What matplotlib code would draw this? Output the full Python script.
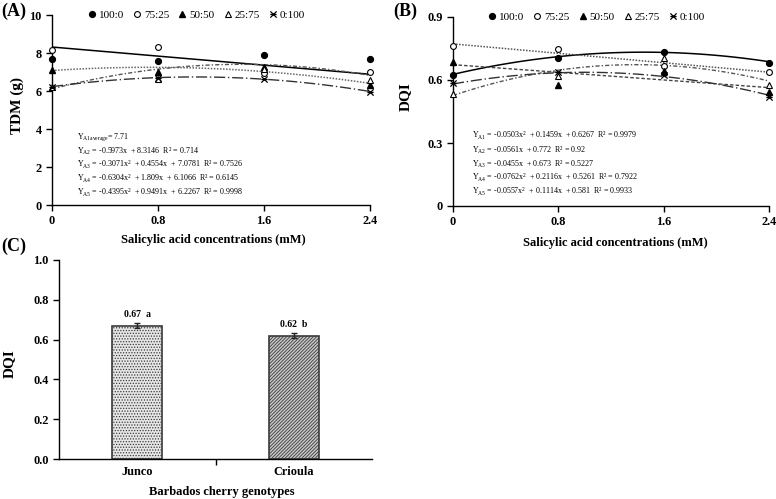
import numpy as np
import matplotlib
matplotlib.use("Agg")
import matplotlib.pyplot as plt
from matplotlib.path import Path

plt.rcParams['font.family'] = ['Liberation Serif', 'DejaVu Serif']
plt.rcParams['mathtext.fontset'] = 'custom'
plt.rcParams['mathtext.rm'] = 'Liberation Serif'
plt.rcParams['mathtext.it'] = 'Liberation Serif:italic'
plt.rcParams['mathtext.bf'] = 'Liberation Serif:bold'
plt.rcParams['hatch.color'] = '#555555'
plt.rcParams['hatch.linewidth'] = 0.6

# ---------------- data ----------------
sa = [0, 0.8, 1.6, 2.4]
series = ["100:0", "75:25", "50:50", "25:75", "0:100"]

tdm_100_0 = [7.68, 7.56, 7.89, 7.67]
tdm_75_25 = [8.16, 8.30, 6.93, 7.02]
tdm_50_50 = [7.10, 7.02, 7.28, 6.32]
tdm_25_75 = [6.19, 6.63, 7.15, 6.60]
tdm_0_100 = [6.19, 6.66, 6.63, 5.96]

dqi_100_0 = [0.625, 0.704, 0.731, 0.683]
dqi_75_25 = [0.760, 0.749, 0.668, 0.638]
dqi_50_50 = [0.688, 0.577, 0.644, 0.545]
dqi_25_75 = [0.534, 0.620, 0.704, 0.577]
dqi_0_100 = [0.585, 0.640, 0.625, 0.521]

# regression coefficients (highest power first), as printed on the chart
tdm_fits = {"75:25": [-0.5973, 8.3146], "50:50": [-0.3071, 0.4554, 7.0781],
            "25:75": [-0.6304, 1.809, 6.1066], "0:100": [-0.4395, 0.9491, 6.2267]}
dqi_fits = {"100:0": [-0.0503, 0.1459, 0.6267], "75:25": [-0.0561, 0.772],
            "50:50": [-0.0455, 0.673], "25:75": [-0.0762, 0.2116, 0.5261],
            "0:100": [-0.0557, 0.1114, 0.581]}

tdm_eqs = [r"Y$_{\rm A1average}$= 7.71",
           r"Y$_{\rm A2}$ = -0.5973x  + 8.3146  R² = 0.714",
           r"Y$_{\rm A3}$ = -0.3071x$^{2}$  + 0.4554x  + 7.0781  R² = 0.7526",
           r"Y$_{\rm A4}$ = -0.6304x$^{2}$  + 1.809x  + 6.1066  R² = 0.6145",
           r"Y$_{\rm A5}$ = -0.4395x$^{2}$  + 0.9491x  + 6.2267  R² = 0.9998"]
dqi_eqs = [r"Y$_{\rm A1}$ = -0.0503x$^{2}$  + 0.1459x  + 0.6267  R² = 0.9979",
           r"Y$_{\rm A2}$ = -0.0561x  + 0.772  R² = 0.92",
           r"Y$_{\rm A3}$ = -0.0455x  + 0.673  R² = 0.5227",
           r"Y$_{\rm A4}$ = -0.0762x$^{2}$  + 0.2116x  + 0.5261  R² = 0.7922",
           r"Y$_{\rm A5}$ = -0.0557x$^{2}$  + 0.1114x  + 0.581  R² = 0.9933"]

genotypes = ["Junco", "Crioula"]
dqi_geno = [0.67, 0.62]
dqi_geno_err = [0.012, 0.011]
geno_labels = ["0.67  a", "0.62  b"]

# ---------------- styles ----------------
star = Path([(-1, -1), (1, 1), (-1, 1), (1, -1), (-1, 0), (1, 0)],
            [Path.MOVETO, Path.LINETO, Path.MOVETO, Path.LINETO, Path.MOVETO, Path.LINETO])
mk = {"100:0": dict(marker='o', mfc='black', mec='black', ms=4.2),
      "75:25": dict(marker='o', mfc='white', mec='black', ms=4.2, mew=0.8),
      "50:50": dict(marker='^', mfc='black', mec='black', ms=4.2),
      "25:75": dict(marker='^', mfc='white', mec='black', ms=4.2, mew=0.8),
      "0:100": dict(marker=star, mfc='none', mec='black', ms=4.5, mew=0.9)}
ls = {"100:0": dict(ls='-', color='black', lw=1.1),
      "75:25": dict(ls=(0, (1, 1)), color='#555555', lw=1.1),
      "50:50": dict(ls=(0, (2.5, 1.5)), color='#444444', lw=1.0),
      "25:75": dict(ls=(0, (3, 1.5, 1, 1.5)), color='#555555', lw=1.0),
      "0:100": dict(ls=(0, (8, 2, 1, 2)), color='#333333', lw=1.0)}
ls_tdm = {"75:25": dict(ls='-', color='black', lw=1.1),
          "50:50": dict(ls=(0, (1, 1)), color='#666666', lw=1.1),
          "25:75": dict(ls=(0, (3, 1.5, 1, 1.5)), color='#555555', lw=1.0),
          "0:100": dict(ls=(0, (8, 2, 1, 2)), color='#333333', lw=1.0)}

W, H = 776, 499
fig = plt.figure(figsize=(W / 100, H / 100), dpi=100)


def ax_px(l, r, b, t):
    return fig.add_axes([l / W, 1 - b / H, (r - l) / W, (b - t) / H])


def ftext(x, y, s, **kw):
    return fig.text(x / W, 1 - y / H, s, **kw)


def style(ax):
    for s in ['top', 'right']:
        ax.spines[s].set_visible(False)
    for s in ['left', 'bottom']:
        ax.spines[s].set_linewidth(1.0)
    ax.tick_params(direction='out', length=4, width=1, labelsize=8.8)
    for lab in ax.get_xticklabels() + ax.get_yticklabels():
        lab.set_fontweight('bold')


xs = np.linspace(0, 2.4, 100)


def line_panel(ax, data, fits, lstyles, ylim, yticks, yticklabels, eqs, eqpos):
    for name, vals in zip(series, data):
        ax.plot(sa, vals, ls='none', clip_on=False, zorder=3, label=name, **mk[name])
    for name, coef in fits.items():
        ax.plot(xs, np.polyval(coef, xs), zorder=2, **lstyles[name])
    ax.set_xlim(0, 2.4)
    ax.set_ylim(*ylim)
    ax.set_xticks(sa)
    ax.set_xticklabels(["0", "0.8", "1.6", "2.4"])
    ax.set_yticks(yticks)
    ax.set_yticklabels(yticklabels)
    style(ax)
    ax.legend(loc='center', bbox_to_anchor=(0.455, 1.0), ncol=5, frameon=False,
              handlelength=0.6, handletextpad=0.3, columnspacing=0.9, fontsize=8,
              borderaxespad=0)
    x0, y0 = eqpos
    for i, e in enumerate(eqs):
        ftext(x0, y0 + i * 14, e, fontsize=5.8, va='center', ha='left')


# Panel A
axA = ax_px(52, 370, 205, 15)
line_panel(axA, [tdm_100_0, tdm_75_25, tdm_50_50, tdm_25_75, tdm_0_100], tdm_fits, ls_tdm,
           (0, 10), [0, 2, 4, 6, 8, 10], ["0", "2", "4", "6", "8", "10"], tdm_eqs, (77, 137))
ftext(17, 106, "TDM (g)", fontsize=11, fontweight='bold', rotation=90, ha='center', va='center')
ftext(213, 240, "Salicylic acid concentrations (mM)", fontsize=9, fontweight='bold',
      ha='center', va='center')

# Panel B
axB = ax_px(453, 769, 206, 17)
line_panel(axB, [dqi_100_0, dqi_75_25, dqi_50_50, dqi_25_75, dqi_0_100], dqi_fits, ls,
           (0, 0.9), [0, 0.3, 0.6, 0.9], ["0", "0.3", "0.6", "0.9"], dqi_eqs, (472, 136))
ftext(405, 97, "DQI", fontsize=11, fontweight='bold', rotation=90, ha='center', va='center')
ftext(615, 243, "Salicylic acid concentrations (mM)", fontsize=9, fontweight='bold',
      ha='center', va='center')

# Panel C
axC = ax_px(59, 372, 459, 260)
xpos = np.arange(len(genotypes))
axC.bar(xpos[0], dqi_geno[0], width=0.32, facecolor='#e6e6e6', edgecolor='#3a3a3a',
        hatch='......', linewidth=1.2, zorder=2)
axC.bar(xpos[1], dqi_geno[1], width=0.32, facecolor='#c8c8c8', edgecolor='#3a3a3a',
        hatch='//////////', linewidth=1.2, zorder=2)
axC.errorbar(xpos, dqi_geno, yerr=dqi_geno_err, fmt='none', ecolor='#222222', elinewidth=1,
             capsize=2.5, capthick=1, zorder=3)
for x, v, e, t in zip(xpos, dqi_geno, dqi_geno_err, geno_labels):
    axC.text(x, v + e + 0.02, t, ha='center', va='bottom', fontsize=7, fontweight='bold')
axC.set_xlim(-0.5, 1.5)
axC.set_ylim(0, 1.0)
axC.set_yticks([0, 0.2, 0.4, 0.6, 0.8, 1.0])
axC.set_yticklabels(["0.0", "0.2", "0.4", "0.6", "0.8", "1.0"])
axC.set_xticks([0.5])
axC.set_xticklabels([""])
style(axC)
for x, g in zip(xpos, genotypes):
    axC.text(x, -13 / 199, g, transform=axC.get_xaxis_transform(), ha='center', va='center',
             fontsize=8.8, fontweight='bold')
ftext(9, 364, "DQI", fontsize=11, fontweight='bold', rotation=90, ha='center', va='center')
ftext(222, 492, "Barbados cherry genotypes", fontsize=9, fontweight='bold',
      ha='center', va='center')

# panel labels
ftext(1, 11, "(A)", fontsize=13, fontweight='bold', va='center', ha='left')
ftext(393, 11, "(B)", fontsize=13, fontweight='bold', va='center', ha='left')
ftext(1, 246, "(C)", fontsize=13, fontweight='bold', va='center', ha='left')

fig.savefig("out.png", dpi=100)
